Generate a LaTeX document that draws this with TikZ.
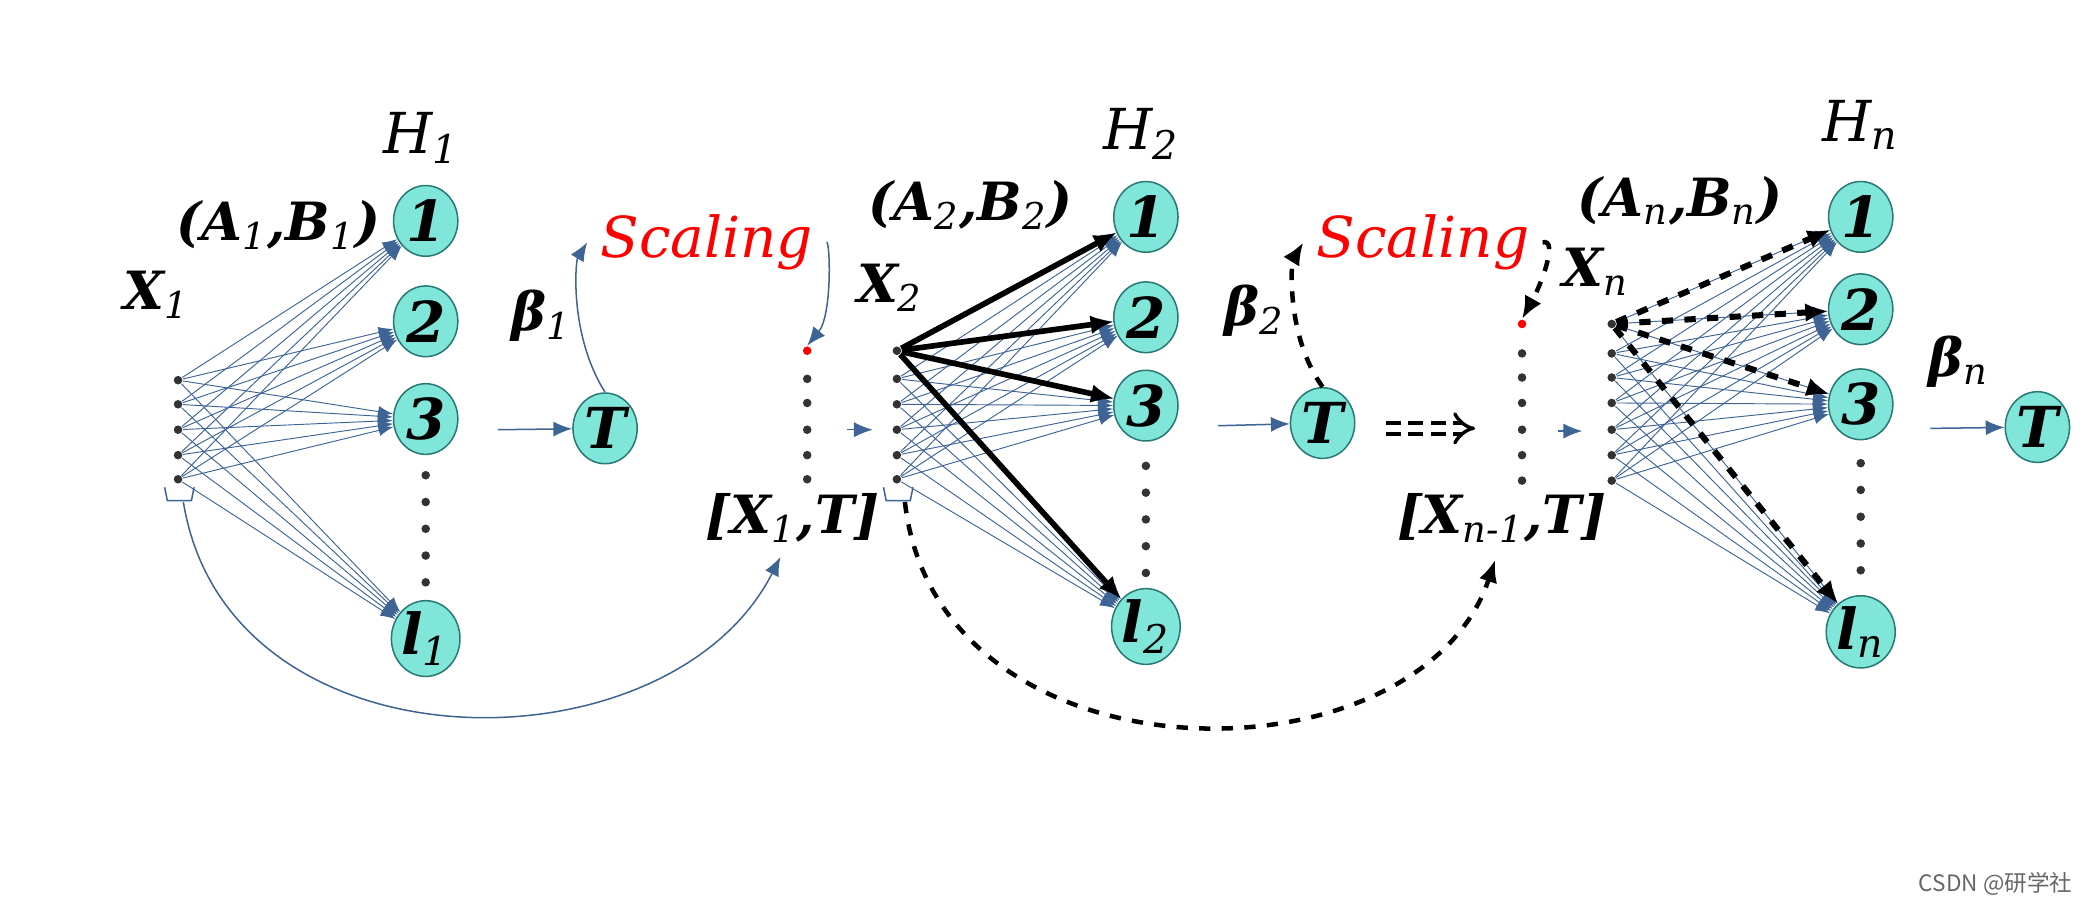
\documentclass[tikz,border=0pt]{standalone}
\usepackage{fontspec}
\setmainfont{DejaVu Serif}
\newfontfamily\cjk{Noto Sans CJK SC}
\usetikzlibrary{shapes.geometric,arrows.meta}
\definecolor{edge}{RGB}{62,100,150}
\definecolor{cellfill}{RGB}{128,230,218}
\definecolor{celldraw}{RGB}{40,120,115}
\newcommand{\sub}[1]{\textsubscript{\mdseries #1}}

\begin{document}
\begin{tikzpicture}[x=0.0125cm,y=-0.0125cm,
cell/.style={ellipse, draw=celldraw, fill=cellfill, minimum width=0.6cm, minimum height=0.66cm, inner sep=0pt, font=\fontsize{15}{15}\selectfont\bfseries\itshape},
dot/.style={circle, fill=black!80, minimum size=0.08cm, inner sep=0pt},
reddot/.style={circle, fill=red, minimum size=0.08cm, inner sep=0pt},
lab/.style={font=\fontsize{14}{14}\selectfont\bfseries\itshape},
hlab/.style={font=\fontsize{15}{15}\selectfont\itshape},
scal/.style={text=red, font=\fontsize{15}{15}\selectfont\itshape},
link/.style={edge, line width=0.25pt, -{Latex[length=4pt,width=3pt]}},
thinarrow/.style={edge, line width=0.4pt, -{Latex[length=5pt,width=4pt]}},
boldarrow/.style={black, line width=1.5pt, -{Latex[length=6pt,width=5pt]}},
dasharrow/.style={black, line width=1.2pt, dashed, -{Latex[length=6pt,width=5pt]}}
]
\useasboundingbox (0,0) rectangle (1568,670);

%Layer 1
\node[hlab] (H1) at (315,103) {H\sub{1}};
\node[lab] (AB1) at (208,168) {(A\sub{1},B\sub{1})};
\node[lab] (X1) at (117,220) {X\sub{1}};
\node[cell] (h1a) at (318,165) {1};
\node[cell] (h1b) at (318,240) {2};
\node[cell] (h1c) at (318,313) {3};
\node[cell] (h1l) at (318,477) {l\sub{1}};
\foreach \y in {355,375,395,415,435} \node[dot] at (318,\y) {};
\foreach \y [count=\i] in {284,302,321,340,358} \node[dot] (p1\i) at (133,\y) {};
\foreach \i in {1,...,5} \foreach \h in {a,b,c,l} \draw[link] (p1\i) -- (h1\h);
\draw[edge, line width=0.4pt] (123,364) -- (125,374) -- (143,374) -- (145,364);
\coordinate (b1) at (137,375);

\node[lab] (beta1) at (405,236) {β\sub{1}};
\coordinate (in1) at (372,321);
\node[cell] (T1) at (452,320) {T};
\draw[thinarrow] (in1) -- (T1);
\node[scal] (sc1) at (528,181) {Scaling};
\draw[thinarrow] (T1.north) .. controls (425,250) and (430,195) .. (sc1.west);
\node[reddot] (c1r) at (603,262) {};
\foreach \y [count=\i] in {283,301,321,340,358} \node[dot] (c1\i) at (603,\y) {};
\draw[thinarrow] (sc1.east) .. controls (620,178) and (622,235) .. (c1r.north);
\node[lab] (cat1) at (592,387) {[X\sub{1},T]};
\coordinate (cat1in) at (583,416);
\draw[thinarrow] (b1) .. controls (170,580) and (500,580) .. (cat1in);
\coordinate (s1a) at (633,321);
\coordinate (s1b) at (652,321);
\draw[thinarrow] (s1a) -- (s1b);

%Layer 2
\node[hlab] (H2) at (853,100) {H\sub{2}};
\node[lab] (AB2) at (725,153) {(A\sub{2},B\sub{2})};
\node[lab] (X2) at (665,215) {X\sub{2}};
\node[cell] (h2a) at (856,162) {1};
\node[cell] (h2b) at (856,237) {2};
\node[cell] (h2c) at (856,303) {3};
\node[cell] (h2l) at (856,468) {l\sub{2}};
\foreach \y in {348,368,388,408,428} \node[dot] at (856,\y) {};
\foreach \y [count=\i] in {262,283,302,321,340,358} \node[dot] (p2\i) at (670,\y) {};
\foreach \i in {1,...,6} \foreach \h in {a,b,c,l} \draw[link] (p2\i) -- (h2\h);
\foreach \h in {a,b,c,l} \draw[boldarrow] (p21) -- (h2\h);
\draw[edge, line width=0.4pt] (660,364) -- (662,374) -- (680,374) -- (682,364);
\coordinate (b2) at (676,375);

\node[lab] (beta2) at (937,232) {β\sub{2}};
\coordinate (in2) at (910,318);
\node[cell] (T2) at (988,316) {T};
\draw[thinarrow] (in2) -- (T2);
\coordinate (dbl1) at (1035,320);
\coordinate (dbl2) at (1102,320);
\draw[black, double, double distance=2pt, line width=0.9pt, dash pattern=on 4pt off 2pt, -{Implies}] (dbl1) -- (dbl2);
\node[scal] (sc2) at (1063,181) {Scaling};
\draw[dasharrow] (T2.north) .. controls (960,250) and (965,195) .. (sc2.west);
\node[reddot] (c2r) at (1137,242) {};
\foreach \y [count=\i] in {264,282,301,321,340,359} \node[dot] (c2\i) at (1137,\y) {};
\draw[dasharrow] (sc2.east) .. controls (1165,178) and (1150,215) .. (c2r.north);
\node[lab] (cat2) at (1122,387) {[X\sub{n-1},T]};
\coordinate (cat2in) at (1117,418);
\draw[dasharrow] (b2) .. controls (700,590) and (1060,590) .. (cat2in);
\coordinate (s2a) at (1164,322);
\coordinate (s2b) at (1182,322);
\draw[thinarrow] (s2a) -- (s2b);

%Layer n
\node[hlab] (Hn) at (1390,93) {H\sub{n}};
\node[lab] (ABn) at (1255,150) {(A\sub{n},B\sub{n})};
\node[lab] (Xn) at (1192,203) {X\sub{n}};
\node[cell] (hna) at (1390,162) {1};
\node[cell] (hnb) at (1390,231) {2};
\node[cell] (hnc) at (1390,302) {3};
\node[cell] (hnl) at (1390,472) {l\sub{n}};
\foreach \y in {346,366,386,406,426} \node[dot] at (1390,\y) {};
\foreach \y [count=\i] in {242,264,282,301,321,340,359} \node[dot] (pn\i) at (1204,\y) {};
\foreach \i in {1,...,7} \foreach \h in {a,b,c,l} \draw[link] (pn\i) -- (hn\h);
\foreach \h in {a,b,c,l} \draw[dasharrow, line width=1.6pt] (pn1) -- (hn\h);

\node[lab] (betan) at (1463,270) {β\sub{n}};
\coordinate (inn) at (1442,320);
\node[cell] (T3) at (1522,319) {T};
\draw[thinarrow] (inn) -- (T3);

\node[text=black!60, font=\cjk\fontsize{6}{6}\selectfont, anchor=east] (mark) at (1558,660) {CSDN @研学社};
\end{tikzpicture}
\end{document}
